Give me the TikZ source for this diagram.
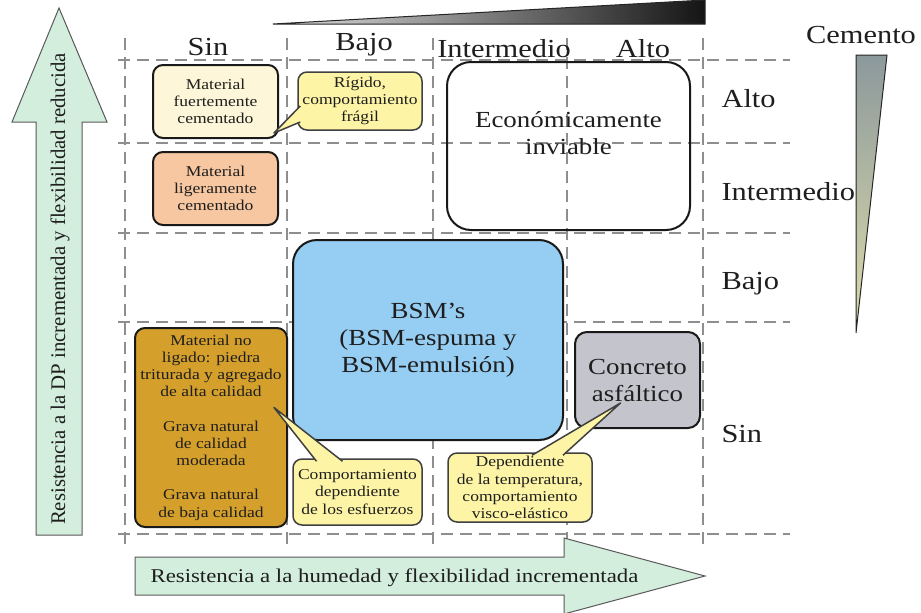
\documentclass[tikz,border=0pt]{standalone}
\usepackage{fontspec}
\setmainfont{Liberation Serif}[FakeStretch=1.17]
\newfontfamily\uprightserif{Liberation Serif}
\usetikzlibrary{calc}

\definecolor{gridgray}{HTML}{8E8E8E}
\definecolor{mintfill}{HTML}{D3EEDC}
\definecolor{creamfill}{HTML}{FDF6D8}
\definecolor{peachfill}{HTML}{F6C7A1}
\definecolor{calloutfill}{HTML}{FDF4A6}
\definecolor{ochrefill}{HTML}{D4A02B}
\definecolor{skyfill}{HTML}{96CDF2}
\definecolor{asphaltfill}{HTML}{C4C4CC}
\definecolor{inkcol}{HTML}{1E1E1E}

\newcommand{\smalltxt}{\fontsize{15}{17.2}\selectfont}
\newcommand{\bigtxt}{\fontsize{23}{27}\selectfont}
\newcommand{\headtxt}{\fontsize{26}{30}\selectfont}
\newcommand{\arrowtxt}{\fontsize{19.5}{23}\selectfont}
\newcommand{\sidetxt}{\fontsize{20.8}{24}\selectfont}

\tikzset{
  gridline/.style={gridgray, line width=2pt, dash pattern=on 12pt off 7pt},
  matbox/.style={draw=black!90, line width=2pt, rounded corners=10pt, inner sep=0pt,
    align=center, text=inkcol, font=\smalltxt},
  bigbox/.style={draw=black!90, line width=2pt, rounded corners=24pt, inner sep=0pt,
    align=center, text=inkcol, font=\bigtxt},
  callout/.style={draw=black!75, line width=1.5pt, fill=calloutfill, rounded corners=9pt,
    inner sep=0pt, align=center, text=inkcol, font=\smalltxt},
  tail/.style={draw=black!75, line width=1.5pt, fill=calloutfill, line join=round},
  fatarrow/.style={draw=black!65, line width=1pt, fill=mintfill},
  axislabel/.style={text=inkcol, font=\headtxt},
}

\begin{document}
\begin{tikzpicture}[x=1pt,y=-1pt]
\useasboundingbox (0,0) rectangle (921,613);

% dashed grid
\draw[gridline] (118,60) -- (790,60);
\draw[gridline] (118,143) -- (790,143);
\draw[gridline] (118,233) -- (790,233);
\draw[gridline] (118,322) -- (790,322);
\draw[gridline] (118,534) -- (790,534);
\draw[gridline] (125,38) -- (125,545);
\draw[gridline] (287,38) -- (287,545);
\draw[gridline] (433,38) -- (433,545);
\draw[gridline] (567,38) -- (567,545);
\draw[gridline] (703,38) -- (703,545);

% wedges
\shadedraw[left color=black!12, right color=black!92, draw=black!85, line width=1pt]
  (273,24) -- (705,0) -- (705,24) -- cycle;
\shadedraw[top color={rgb,255:red,140;green,153;blue,156}, bottom color={rgb,255:red,222;green,220;blue,170},
  draw=black!85, line width=1pt]
  (856,55) -- (887,55) -- (856,333) -- cycle;

% big arrows
\filldraw[fatarrow] (36,535) -- (36,122) -- (12,122) -- (59,8) -- (107,122) -- (82,122) -- (82,535) -- cycle;
\node[rotate=90, anchor=base, text=inkcol, font=\uprightserif\sidetxt] (dptxt) at (65,289)
  {Resistencia a la DP incrementada y flexibilidad reducida};
\filldraw[fatarrow] (135,557) -- (564,557) -- (564,538) -- (705,576) -- (564,614) -- (564,595) -- (135,595) -- cycle;
\node[anchor=base west, text=inkcol, font=\arrowtxt] (humtxt) at (147,582)
  {Resistencia a la humedad y flexibilidad incrementada};

% axis labels
\node[axislabel, anchor=base] (csin) at (208,55) {Sin};
\node[axislabel, anchor=base] (cbajo) at (364,50) {Bajo};
\node[axislabel, anchor=base] (cint) at (504,57) {Intermedio};
\node[axislabel, anchor=base] (calto) at (643,57) {Alto};
\node[axislabel, anchor=base west] (ralto) at (718,107) {Alto};
\node[axislabel, anchor=base west] (rint) at (718,200) {Intermedio};
\node[axislabel, anchor=base west] (rbajo) at (718,289) {Bajo};
\node[axislabel, anchor=base west] (rsin) at (718,442) {Sin};
\node[axislabel, anchor=base] (cemento) at (861,43) {Cemento};

% materials
\node[matbox, fill=creamfill, minimum width=125pt, minimum height=73pt] (fuerte) at (215.5,101.5)
  {Material\\fuertemente\\cementado};
\node[matbox, fill=peachfill, minimum width=125pt, minimum height=73pt] (ligero) at (215.5,188.5)
  {Material\\ligeramente\\cementado};
\node[matbox, fill=ochrefill, minimum width=152pt, minimum height=199pt] (noligado) at (211,427.5)
  {Material no\\ligado: piedra\\triturada y agregado\\de alta calidad\\[17.2pt]Grava natural\\de calidad\\moderada\\[17.2pt]Grava natural\\de baja calidad};
\node[bigbox, minimum width=243pt, minimum height=168pt] (econ) at (568.5,146) {};
\node[text=inkcol, font=\bigtxt, align=center] (econtxt) at (568.5,133) {Económicamente\\inviable};
\node[bigbox, fill=skyfill, minimum width=270pt, minimum height=200pt] (bsm) at (428,340)
  {BSM’s\\(BSM-espuma y\\BSM-emulsión)};
\node[matbox, rounded corners=12pt, fill=asphaltfill, font=\bigtxt, minimum width=125pt, minimum height=96pt]
  (concreto) at (637.5,380) {Concreto\\asfáltico};

% callouts
\node[callout, minimum width=124pt, minimum height=58pt] (rigido) at (360,101)
  {Rígido,\\comportamiento\\frágil};
\coordinate (rigtip) at ($(fuerte.south east)+(-5,-6)$);
\filldraw[tail] ($(rigido.west)+(3,5)$) -- (rigtip) -- ($(rigido.west)+(3,21)$);

\node[callout, minimum width=129pt, minimum height=66pt] (esfuerzo) at (357.5,492)
  {Comportamiento\\dependiente\\de los esfuerzos};
\coordinate (esftip) at ($(noligado.east)+(-14,-20)$);
\filldraw[tail] ($(esfuerzo.north)+(-41,3)$) -- (esftip) -- ($(esfuerzo.north)+(-15,3)$);

\node[callout, minimum width=144pt, minimum height=69pt] (temper) at (520,487.5)
  {Dependiente\\de la temperatura,\\comportamiento\\visco-elástico};
\coordinate (temptip) at ($(concreto.center)+(-17,23)$);
\filldraw[tail] ($(temper.north)+(12,3)$) -- (temptip) -- ($(temper.north)+(43,3)$);
\end{tikzpicture}
\end{document}
